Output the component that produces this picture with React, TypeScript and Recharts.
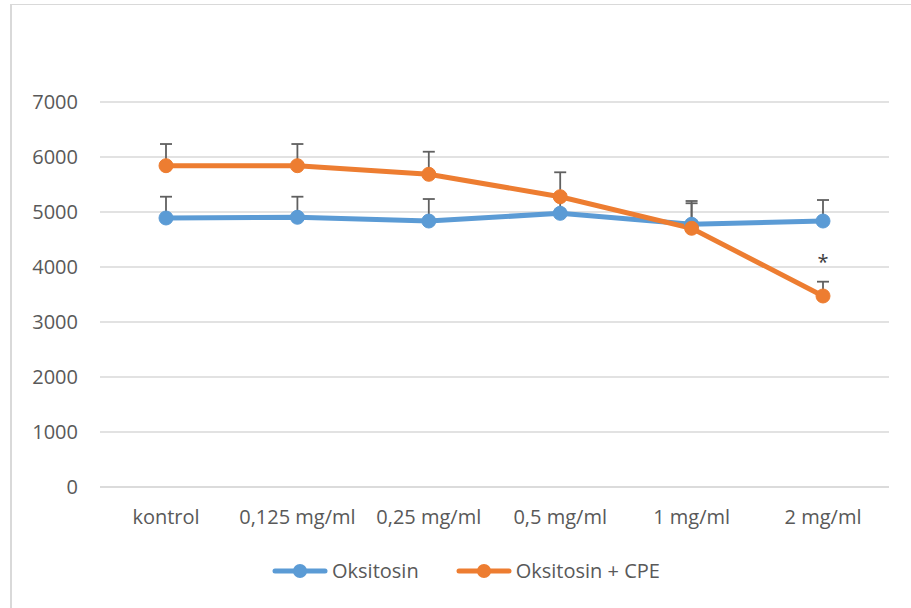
import React from "react";
import {
  LineChart,
  Line,
  XAxis,
  YAxis,
  CartesianGrid,
  ErrorBar,
  Legend,
  LabelList,
} from "recharts";

const categories = ["kontrol", "0,125 mg/ml", "0,25 mg/ml", "0,5 mg/ml", "1 mg/ml", "2 mg/ml"];
const oksitosin = [4891, 4904, 4836, 4976, 4776, 4836];
const oksitosinErr = [387, 374, 400, 350, 424, 382];
const oksitosinCpe = [5842, 5842, 5685, 5278, 4704, 3473];
const oksitosinCpeErr = [394, 394, 411, 444, 455, 260];
const significance = ["", "", "", "", "", "*"];
const yTicks = [0, 1000, 2000, 3000, 4000, 5000, 6000, 7000];

const BLUE = "#5B9BD5";
const ORANGE = "#ED7D31";
const TEXT = "#595959";
const GRID = "#d9d9d9";
const FONT = "'Open Sans', sans-serif";

const data = categories.map((c, i) => ({
  name: c,
  a: oksitosin[i],
  aErr: [0, oksitosinErr[i]],
  b: oksitosinCpe[i],
  bErr: [0, oksitosinCpeErr[i]],
  sig: significance[i],
}));

const LegendContent = (props: any) => {
  const payload = props.payload || [];
  return (
    <div
      style={{
        height: 30,
        display: "flex",
        alignItems: "center",
        paddingLeft: 272,
        fontFamily: FONT,
        fontSize: 20,
        color: TEXT,
      }}
    >
      {payload.map((p: any, i: number) => (
        <div
          key={i}
          style={{ display: "flex", alignItems: "center", marginRight: 37 }}
        >
          <svg width={56} height={16} style={{ display: "block" }}>
            <line x1={3} y1={8} x2={53} y2={8} stroke={p.color} strokeWidth={5} strokeLinecap="round" />
            <circle cx={28} cy={8} r={7} fill={p.color} />
          </svg>
          <span style={{ marginLeft: 4, lineHeight: "30px" }}>{p.value}</span>
        </div>
      ))}
    </div>
  );
};

export default function App() {
  return (
    <div
      style={{
        position: "absolute",
        left: 0,
        top: 0,
        width: 911,
        height: 608,
        overflow: "hidden",
        background: "#fff",
      }}
    >
      <div
        style={{
          position: "absolute",
          left: 10,
          top: 4,
          width: 1000,
          height: 800,
          borderLeft: `2px solid ${GRID}`,
          borderTop: `1px solid ${GRID}`,
        }}
      />
      <div style={{ position: "absolute", left: 0, top: 0 }}>
        <LineChart
          width={911}
          height={608}
          data={data}
          margin={{ top: 102, right: 22, left: 0, bottom: 22 }}
        >
          <CartesianGrid vertical={false} stroke={GRID} strokeWidth={1.3} />
          <XAxis
            dataKey="name"
            padding={{ left: 66, right: 66 }}
            axisLine={{ stroke: GRID, strokeWidth: 1.3 }}
            tickLine={false}
            tickMargin={17}
            height={69}
            interval={0}
            tick={{ fill: TEXT, fontSize: 20, fontFamily: FONT }}
          />
          <YAxis
            width={100}
            domain={[0, 7000]}
            ticks={yTicks}
            axisLine={false}
            tickLine={false}
            tickMargin={16}
            tick={{ fill: TEXT, fontSize: 20, fontFamily: FONT }}
          />
          <Legend
            verticalAlign="bottom"
            content={<LegendContent />}
            wrapperStyle={{ left: 0, top: 556, width: 911, height: 30 }}
          />
          <Line
            name="Oksitosin"
            dataKey="a"
            stroke={BLUE}
            strokeWidth={5}
            dot={{ r: 7, fill: BLUE, stroke: BLUE, strokeWidth: 1 }}
            activeDot={false}
            isAnimationActive={false}
          >
            <ErrorBar dataKey="aErr" direction="y" width={6} stroke="#606060" strokeWidth={1.8} />
          </Line>
          <Line
            name="Oksitosin + CPE"
            dataKey="b"
            stroke={ORANGE}
            strokeWidth={5}
            dot={{ r: 7, fill: ORANGE, stroke: ORANGE, strokeWidth: 1 }}
            activeDot={false}
            isAnimationActive={false}
          >
            <ErrorBar dataKey="bErr" direction="y" width={6} stroke="#606060" strokeWidth={1.8} />
            <LabelList dataKey="sig" position="top" offset={27} fill="#404040" fontSize={20} fontFamily={FONT} />
          </Line>
        </LineChart>
      </div>
    </div>
  );
}
